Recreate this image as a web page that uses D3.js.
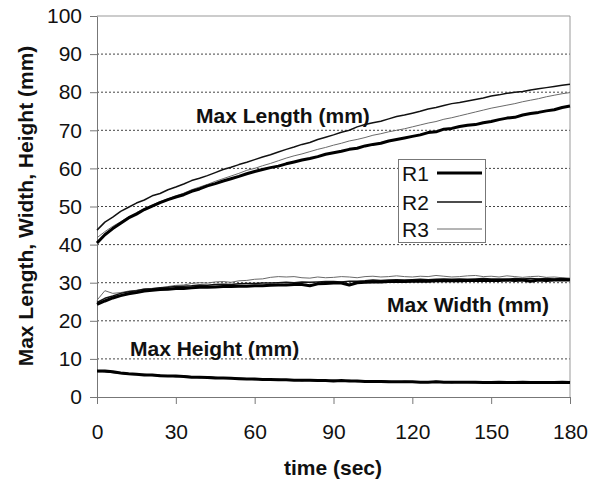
<!DOCTYPE html>
<html><head><meta charset="utf-8">
<script src="https://cdn.jsdelivr.net/npm/d3@7/dist/d3.min.js"></script>
<style>
body{margin:0;background:#fff;}
text{font-family:"Liberation Sans",Arial,sans-serif;fill:#111;}
</style></head>
<body><svg id="c" width="589" height="482"></svg>
<script>
const times = [0,3,6,9,12,15,18,21,24,27,30,33,36,39,42,45,48,51,54,57,60,63,66,69,72,75,78,81,84,87,90,93,96,99,102,105,108,111,114,117,120,123,126,129,132,135,138,141,144,147,150,153,156,159,162,165,168,171,174,177,180];

const lengthR1 = [40.4,42.6,44.2,45.6,47.0,48.0,49.2,50.1,51.0,51.8,52.5,53.1,54.0,54.6,55.4,56.0,56.7,57.3,57.9,58.6,59.2,59.7,60.2,60.6,61.2,61.7,62.2,62.6,63.1,63.7,64.1,64.5,65.0,65.3,65.9,66.3,66.6,67.2,67.6,68.0,68.4,68.8,69.4,69.6,70.3,70.5,71.0,71.3,71.5,72.0,72.3,72.8,73.2,73.4,74.0,74.4,74.7,75.1,75.4,76.0,76.4];
const lengthR2 = [43.8,45.9,47.2,48.7,49.8,50.9,51.7,52.8,53.4,54.4,55.1,55.9,56.8,57.4,58.1,58.9,59.7,60.3,61.0,61.6,62.3,63.0,63.6,64.3,65.0,65.6,66.3,66.8,67.6,68.2,68.8,69.5,70.0,70.9,71.5,72.0,72.4,73.0,73.6,74.0,74.5,75.0,75.6,76.0,76.5,77.0,77.3,77.7,78.1,78.5,79.0,79.3,79.7,80.0,80.2,80.6,80.9,81.2,81.5,81.8,82.1];
const lengthR3 = [41.8,43.4,44.8,46.0,47.3,48.4,49.5,50.4,51.3,52.0,52.8,53.5,54.4,55.1,55.8,56.6,57.3,58.0,58.7,59.5,60.0,60.7,61.3,62.0,62.7,63.3,63.8,64.4,65.0,65.5,66.1,66.6,67.2,67.6,68.1,68.7,69.1,69.6,70.0,70.4,70.9,71.4,71.9,72.3,72.9,73.3,73.8,74.3,74.8,75.3,75.8,76.2,76.6,77.0,77.5,77.9,78.3,78.8,79.2,79.6,79.9];

const widthR1 = [24.3,25.2,26.0,26.6,27.1,27.4,27.8,28.0,28.2,28.3,28.5,28.5,28.7,28.8,28.8,28.9,29.0,29.0,29.1,29.1,29.2,29.2,29.3,29.4,29.4,29.5,29.5,29.2,29.7,29.8,29.9,29.9,29.4,30.0,30.1,30.2,30.2,30.3,30.3,30.3,30.4,30.4,30.4,30.5,30.5,30.5,30.5,30.6,30.6,30.6,30.6,30.6,30.7,30.6,30.7,30.4,30.7,30.6,30.7,30.8,30.7];
const widthR2 = [24.8,25.9,26.5,27.2,27.6,27.9,28.3,28.4,28.7,28.8,29.0,29.1,29.2,29.4,29.3,29.5,29.6,29.5,29.7,29.8,29.8,29.9,29.9,30.0,30.1,30.0,30.2,30.1,30.2,30.3,30.3,30.2,30.4,30.4,30.5,30.7,30.6,30.7,30.8,30.7,30.8,30.9,30.8,30.9,31.0,30.9,31.0,30.9,31.0,31.1,31.0,31.0,30.9,31.1,31.0,31.1,31.0,31.1,31.0,31.1,31.0];
const widthR3 = [25.4,27.9,27.2,27.4,27.8,28.0,28.4,28.5,28.6,29.0,29.3,29.4,29.8,30.0,29.9,30.2,30.3,30.1,30.5,30.6,30.9,31.0,31.4,31.6,31.5,31.6,31.3,31.2,31.5,31.3,31.4,31.6,31.5,31.3,31.6,31.7,31.5,31.6,31.8,31.6,31.5,31.7,31.6,31.9,31.7,31.5,31.6,31.8,31.9,31.6,31.7,31.5,31.8,31.6,31.4,31.6,31.7,31.4,31.5,31.3,31.2];

const heightR1 = [6.8,6.8,6.6,6.3,6.1,6.0,5.8,5.8,5.6,5.5,5.5,5.4,5.2,5.2,5.1,5.0,5.0,4.9,4.8,4.7,4.7,4.6,4.6,4.5,4.5,4.4,4.4,4.4,4.3,4.3,4.2,4.3,4.2,4.2,4.1,4.1,4.1,4.0,4.0,4.0,4.0,3.9,3.9,4.0,3.9,3.9,3.9,3.9,3.9,3.8,3.8,3.9,3.8,3.8,3.9,3.8,3.8,3.8,3.8,3.9,3.8];
const heightR2 = [6.9,6.7,6.4,6.2,6.0,5.9,5.9,5.7,5.7,5.6,5.4,5.5,5.3,5.1,5.3,5.1,4.9,5.0,4.9,4.8,4.6,4.7,4.5,4.6,4.4,4.5,4.3,4.5,4.4,4.2,4.4,4.2,4.3,4.1,4.2,4.0,4.2,4.1,3.9,4.1,4.0,4.0,3.9,4.1,4.0,3.8,4.0,3.9,3.8,3.9,3.8,3.9,3.8,3.9,3.8,3.8,3.9,3.8,3.9,3.8,3.7];
const heightR3 = [6.6,6.6,6.5,6.3,6.2,6.0,5.8,5.6,5.5,5.5,5.3,5.3,5.2,5.1,5.1,4.9,4.9,4.8,4.8,4.7,4.6,4.5,4.5,4.4,4.4,4.4,4.3,4.3,4.2,4.2,4.1,4.2,4.1,4.1,4.0,4.1,4.0,4.0,3.9,3.9,3.9,3.9,3.8,3.9,3.8,3.9,3.8,3.8,3.8,3.8,3.7,3.8,3.8,3.7,3.8,3.7,3.8,3.7,3.8,3.7,3.8];

const xTicks = [0,30,60,90,120,150,180];
const yTicks = [0,10,20,30,40,50,60,70,80,90,100];
const seriesNames = ["R1","R2","R3"];
const annotations = ["Max Length (mm)","Max Width (mm)","Max Height (mm)"];
const xTitle = "time (sec)";
const yTitle = "Max Length, Width, Height (mm)";

const styles = {R1:{stroke:"#000",w:3}, R2:{stroke:"#111",w:1.5}, R3:{stroke:"#6a6a6a",w:1}};

const svg = d3.select("#c");
const L=97,R=570,T=16,B=397;
const x = d3.scaleLinear().domain([0,180]).range([L,R]);
const y = d3.scaleLinear().domain([0,100]).range([B,T]);

// gridlines
svg.append("g").selectAll("line").data(yTicks.filter(v=>v>0&&v<100)).join("line")
  .attr("x1",L).attr("x2",R).attr("y1",d=>y(d)).attr("y2",d=>y(d))
  .attr("stroke","#444").attr("stroke-width",1).attr("stroke-dasharray","2,2");
// plot frame top/right
svg.append("line").attr("x1",L).attr("x2",R).attr("y1",y(100)).attr("y2",y(100)).attr("stroke","#999");
svg.append("line").attr("x1",R).attr("x2",R).attr("y1",y(100)).attr("y2",y(0)).attr("stroke","#999");

// axes
const xa = svg.append("g").attr("transform",`translate(0,${B})`)
  .call(d3.axisBottom(x).tickValues(xTicks).tickSize(7).tickSizeOuter(0).tickPadding(20).tickFormat(d3.format("d")));
const ya = svg.append("g").attr("transform",`translate(${L},0)`)
  .call(d3.axisLeft(y).tickValues(yTicks).tickSize(7).tickSizeOuter(0).tickPadding(8).tickFormat(d3.format("d")));
[xa,ya].forEach(a=>{
  a.select(".domain").attr("stroke","#777");
  a.selectAll(".tick line").attr("stroke","#777");
  a.selectAll("text").style("font-size","21px").style("font-family","'Liberation Sans',Arial,sans-serif").attr("fill","#111");
});

// lines
const line = d3.line().x((d,i)=>x(times[i])).y(d=>y(d));
const groups = [
  ["R3",[lengthR3,widthR3,heightR3]],
  ["R2",[lengthR2,widthR2,heightR2]],
  ["R1",[lengthR1,widthR1,heightR1]]
];
groups.forEach(([name,arrs])=>{
  arrs.forEach(a=>{
    svg.append("path").datum(a).attr("d",line).attr("fill","none")
      .attr("stroke",styles[name].stroke).attr("stroke-width",styles[name].w)
      .attr("stroke-linejoin","round");
  });
});

// annotations
const annPos = [[196,123],[387,312],[130,356]];
annotations.forEach((t,i)=>{
  svg.append("text").attr("x",annPos[i][0]).attr("y",annPos[i][1])
    .style("font-size","21px").style("font-weight","bold").text(t);
});

// legend
const lg = svg.append("g");
lg.append("rect").attr("x",398.5).attr("y",159.5).attr("width",87).attr("height",83)
  .attr("fill","#fff").attr("stroke","#777");
const lgY = [173,202,229];
seriesNames.forEach((n,i)=>{
  lg.append("text").attr("x",402).attr("y",lgY[i]+8).style("font-size","21px").text(n);
  lg.append("line").attr("x1",437).attr("x2",482).attr("y1",lgY[i]).attr("y2",lgY[i])
    .attr("stroke",styles[n].stroke).attr("stroke-width",styles[n].w);
});

// titles
svg.append("text").attr("x",333).attr("y",475).attr("text-anchor","middle")
  .style("font-size","21px").style("font-weight","bold").text(xTitle);
svg.append("text").attr("transform","translate(33,206) rotate(-90)").attr("text-anchor","middle")
  .style("font-size","21px").style("font-weight","bold").text(yTitle);
</script></body></html>
